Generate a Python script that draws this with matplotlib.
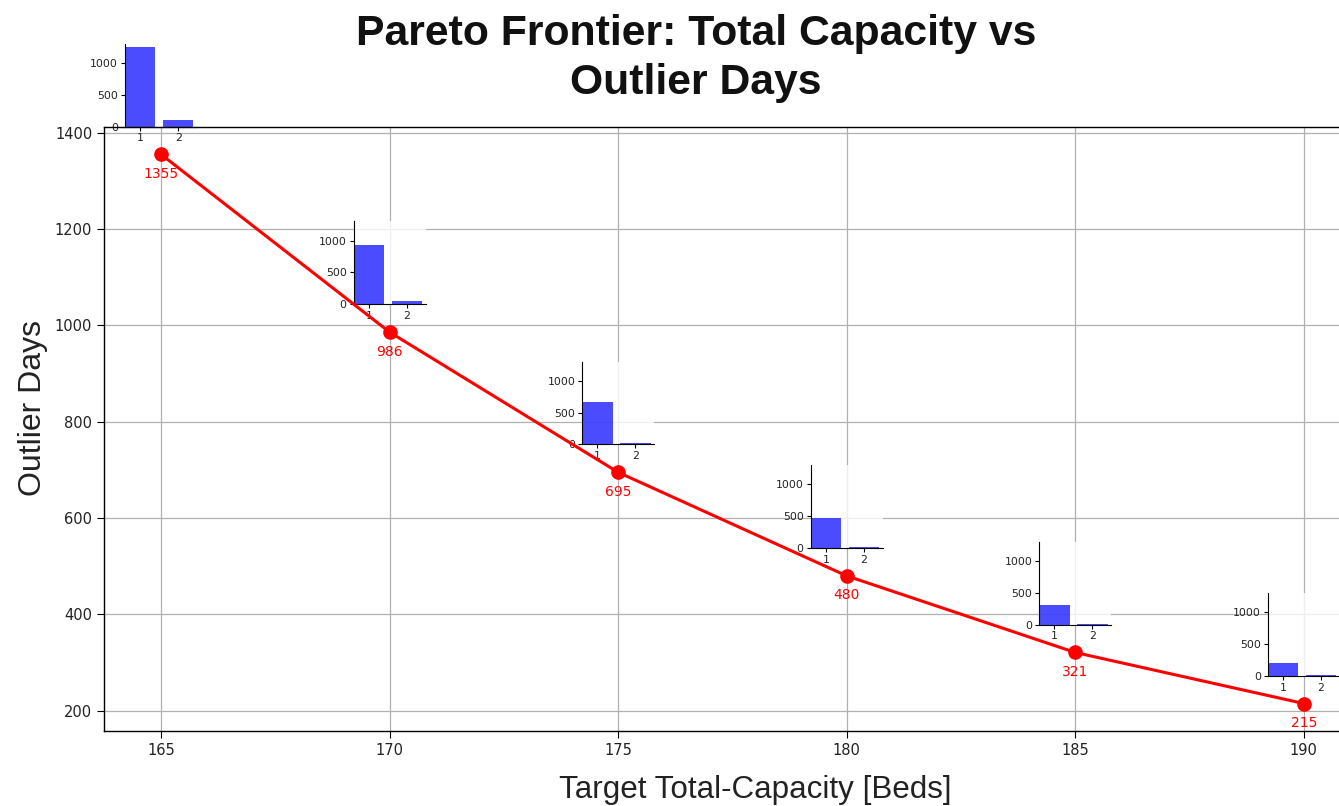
import matplotlib
matplotlib.use("Agg")
import matplotlib.pyplot as plt
import numpy as np

capacity = [165, 170, 175, 180, 185, 190]
outlier_days = [1355, 986, 695, 480, 321, 215]
# breakdown per inset bar (category 1, category 2)
bar_cat1 = [1245, 937, 672, 469, 312, 203]
bar_cat2 = [110, 49, 23, 11, 9, 12]
bar_labels = [1, 2]

W, H = 1339, 806
fig = plt.figure(figsize=(W / 100, H / 100), dpi=100)
ax = fig.add_axes([104 / W, 75 / H, 1257 / W, 604 / H])

ax.plot(capacity, outlier_days, color="red", lw=2.2, marker="o", ms=9.5, zorder=2)
for x, y in zip(capacity, outlier_days):
    ax.annotate(str(y), (x, y), xytext=(0, -14), textcoords="offset points",
                ha="center", va="center", color="red", fontsize=10, zorder=3)

ax.set_xlim(163.75, 191.25)
ax.set_ylim(158, 1412)
ax.set_xticks(capacity)
ax.set_yticks([200, 400, 600, 800, 1000, 1200, 1400])
ax.tick_params(labelsize=10.5, length=5, labelcolor="#222222")
ax.grid(True, color="#b0b0b0", lw=0.9)
for s in ax.spines.values():
    s.set_color("black")
    s.set_linewidth(1.0)

for x, y, a, b in zip(capacity, outlier_days, bar_cat1, bar_cat2):
    ins = ax.inset_axes([x - 0.79, y + 58, 1.58, 172], transform=ax.transData, zorder=1.8)
    ins.patch.set_facecolor("white")
    ins.patch.set_alpha(0.8)
    ins.bar(bar_labels, [a, b], width=0.8, color="blue", alpha=0.7)
    ins.set_xlim(0.6, 2.5)
    ins.set_ylim(0, 1300)
    ins.set_xticks(bar_labels)
    ins.set_yticks([0, 500, 1000])
    ins.tick_params(labelsize=7.8, length=3, pad=2, labelcolor="#222222")
    ins.spines["top"].set_visible(False)
    ins.spines["right"].set_visible(False)

fig.text(696 / W, 1 - 14 / H, "Pareto Frontier: Total Capacity vs\nOutlier Days",
         ha="center", va="top", fontsize=30.8, fontweight="bold",
         family=["Liberation Sans", "DejaVu Sans"], linespacing=1.3, color="#111111")
fig.text(755 / W, 1 - 790 / H, "Target Total-Capacity [Beds]", ha="center", va="center",
         fontsize=22.6, family=["Liberation Sans", "DejaVu Sans"], color="#222222")
fig.text(33 / W, 1 - 408 / H, "Outlier Days", ha="center", va="center", rotation=90,
         fontsize=23, family=["Liberation Sans", "DejaVu Sans"], color="#222222")

fig.savefig("out.png", dpi=100)
